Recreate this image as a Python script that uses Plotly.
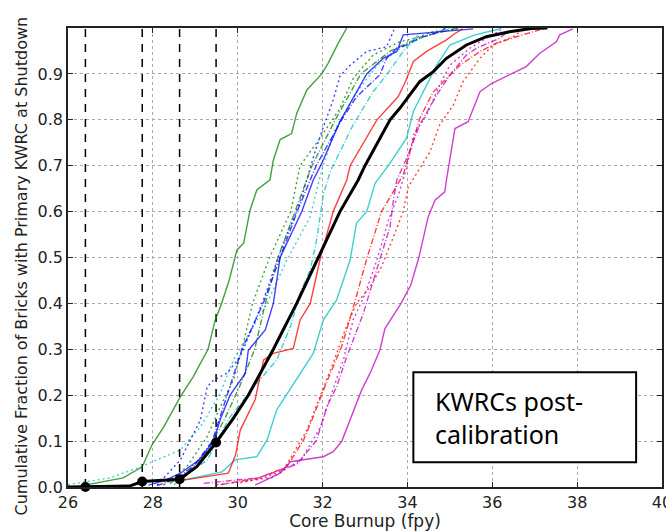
import plotly.graph_objects as go

# ---------------- data ----------------
cutoff_x = [26.41, 27.75, 28.63, 29.49]
cutoff_y = [0.0, 0.012, 0.017, 0.097]

black_x = [26.0, 27.45, 27.75, 28.2, 28.63, 29.04, 29.49, 29.9, 30.25, 30.84, 31.39, 31.9, 32.41, 32.84, 33.0, 33.59, 33.82, 34.06, 34.29, 34.61, 34.92, 35.39, 35.86, 36.41, 36.92, 37.3]
black_y = [0.0, 0.002, 0.012, 0.014, 0.017, 0.045, 0.097, 0.15, 0.2, 0.3, 0.4, 0.5, 0.6, 0.669, 0.7, 0.8, 0.825, 0.855, 0.883, 0.905, 0.934, 0.963, 0.981, 0.992, 0.999, 1.0]

green_solid_x = [26.4, 27.3, 27.75, 27.98, 28.25, 28.65, 28.95, 29.3, 29.47, 29.62, 29.8, 29.98, 30.14, 30.29, 30.45, 30.76, 30.84, 31.0, 31.27, 31.39, 31.63, 31.98, 32.13, 32.37, 32.57]
green_solid_y = [0.004, 0.02, 0.044, 0.092, 0.13, 0.197, 0.24, 0.3, 0.364, 0.4, 0.451, 0.516, 0.531, 0.603, 0.647, 0.669, 0.712, 0.757, 0.77, 0.814, 0.865, 0.9, 0.923, 0.967, 1.0]

blue_solid_x = [27.9, 28.3, 28.65, 29.1, 29.43, 29.6, 29.82, 30.18, 30.25, 30.65, 30.84, 31.0, 31.51, 31.78, 31.98, 32.41, 33.04, 33.43, 33.75, 33.9, 35.55]
blue_solid_y = [0.004, 0.015, 0.03, 0.06, 0.1, 0.15, 0.2, 0.248, 0.298, 0.342, 0.4, 0.5, 0.6, 0.669, 0.705, 0.796, 0.9, 0.934, 0.949, 0.985, 0.998]

red_solid_x = [28.65, 29.78, 29.95, 30.06, 30.41, 30.61, 30.84, 31.31, 31.47, 31.71, 31.95, 32.25, 32.57, 32.65, 33.28, 33.78, 33.94, 34.14, 34.45, 34.92, 35.12, 35.3]
red_solid_y = [0.014, 0.03, 0.07, 0.124, 0.19, 0.277, 0.291, 0.302, 0.364, 0.4, 0.5, 0.6, 0.669, 0.7, 0.8, 0.85, 0.88, 0.927, 0.949, 0.974, 0.988, 0.998]

cyan_solid_x = [28.65, 29.63, 29.94, 30.45, 30.69, 30.92, 31.27, 31.78, 32.02, 32.33, 32.65, 32.8, 33.04, 33.24, 33.55, 33.98, 34.14, 34.37, 34.69, 35.0, 35.59, 36.22]
cyan_solid_y = [0.014, 0.033, 0.059, 0.066, 0.102, 0.168, 0.218, 0.291, 0.364, 0.407, 0.495, 0.575, 0.6, 0.662, 0.7, 0.76, 0.818, 0.861, 0.919, 0.963, 0.985, 0.999]

magenta_solid_x = [30.41, 31.0, 31.24, 32.02, 32.25, 32.45, 32.92, 33.12, 33.35, 33.47, 33.85, 34.08, 34.27, 34.49, 34.65, 34.88, 34.92, 35.12, 35.43, 35.71, 35.98, 36.41, 36.8, 37.12, 37.51, 37.59, 37.9]
magenta_solid_y = [0.004, 0.03, 0.055, 0.066, 0.077, 0.099, 0.211, 0.248, 0.298, 0.345, 0.4, 0.44, 0.5, 0.589, 0.625, 0.643, 0.669, 0.781, 0.796, 0.861, 0.879, 0.898, 0.916, 0.945, 0.97, 0.985, 0.998]

blue_dot_x = [28.1, 28.65, 28.88, 29.12, 29.28, 29.43, 29.75, 30.06, 30.45, 30.69, 30.95, 31.3, 31.51, 31.82, 32.02, 32.25, 32.41, 32.65, 33.04, 33.51, 33.63, 33.7]
blue_dot_y = [0.004, 0.059, 0.102, 0.146, 0.218, 0.233, 0.248, 0.284, 0.371, 0.429, 0.5, 0.58, 0.632, 0.73, 0.785, 0.843, 0.895, 0.919, 0.949, 0.959, 0.985, 1.0]

blue_dashdot_x = [28.1, 28.6, 29.0, 29.4, 29.75, 30.1, 30.6, 31.0, 31.4, 31.85, 32.45, 32.8, 33.35, 33.51, 33.75, 33.98, 34.29, 34.76, 34.9]
blue_dashdot_y = [0.003, 0.02, 0.05, 0.1, 0.2, 0.3, 0.4, 0.5, 0.6, 0.7, 0.8, 0.85, 0.898, 0.934, 0.956, 0.963, 0.978, 0.992, 1.0]

green_dot_x = [28.25, 28.8, 29.28, 29.59, 29.9, 30.1, 30.35, 30.75, 31.25, 31.47, 31.94, 32.41, 32.72, 33.19, 33.82, 34.14, 34.61, 35.24]
green_dot_y = [0.004, 0.044, 0.11, 0.175, 0.233, 0.3, 0.4, 0.5, 0.6, 0.7, 0.76, 0.825, 0.89, 0.941, 0.97, 0.977, 0.992, 0.999]

green_dashdot_x = [28.4, 28.8, 29.3, 29.7, 30.05, 30.4, 30.65, 30.95, 31.35, 31.75, 32.3, 32.9, 33.6, 34.3, 35.2]
green_dashdot_y = [0.008, 0.03, 0.08, 0.15, 0.22, 0.3, 0.4, 0.5, 0.6, 0.7, 0.8, 0.9, 0.95, 0.98, 1.0]

cyan_dot_x = [26.0, 27.0, 27.71, 28.65, 29.12, 29.59, 29.9, 30.37, 30.69, 31.16, 31.71, 31.98, 32.3, 32.8, 33.3, 33.9, 34.5, 35.0]
cyan_dot_y = [0.005, 0.02, 0.044, 0.081, 0.131, 0.204, 0.277, 0.349, 0.4, 0.495, 0.589, 0.69, 0.78, 0.86, 0.92, 0.96, 0.985, 1.0]

cyan_dashdot_x = [28.5, 29.28, 29.8, 30.4, 30.92, 31.24, 31.47, 31.71, 31.86, 32.02, 32.18, 32.72, 33.19, 33.51, 33.9, 34.3]
cyan_dashdot_y = [0.005, 0.059, 0.15, 0.22, 0.277, 0.349, 0.422, 0.473, 0.538, 0.639, 0.687, 0.789, 0.861, 0.898, 0.949, 0.99]

red_dot_x = [30.06, 30.6, 31.08, 31.31, 31.63, 31.94, 32.25, 32.53, 32.8, 33.12, 33.39, 33.67, 33.9, 34.02, 34.14, 34.53, 34.76, 35.08, 35.31, 35.71, 36.02, 36.49, 36.65, 36.8]
red_dot_y = [0.009, 0.02, 0.037, 0.073, 0.124, 0.197, 0.27, 0.342, 0.4, 0.436, 0.48, 0.545, 0.6, 0.654, 0.672, 0.73, 0.789, 0.832, 0.883, 0.934, 0.963, 0.981, 0.992, 1.0]

red_dashdot_x = [29.6, 30.5, 31.16, 31.55, 31.78, 32.02, 32.45, 32.75, 33.05, 33.39, 33.9, 34.29, 34.61, 35.24, 35.71, 36.1, 36.57, 37.12]
red_dashdot_y = [0.005, 0.02, 0.044, 0.102, 0.153, 0.211, 0.306, 0.4, 0.5, 0.6, 0.68, 0.803, 0.861, 0.919, 0.949, 0.967, 0.981, 0.996]

magenta_dashdot_x = [29.2, 30.5, 31.4, 31.86, 32.1, 32.33, 32.57, 32.8, 32.96, 33.2, 33.35, 33.59, 33.67, 33.75, 34.0, 34.29, 34.69, 35.0, 35.39, 35.63, 36.18, 36.4]
magenta_dashdot_y = [0.008, 0.02, 0.05, 0.102, 0.175, 0.218, 0.284, 0.342, 0.378, 0.451, 0.495, 0.567, 0.625, 0.669, 0.72, 0.789, 0.854, 0.898, 0.941, 0.956, 0.978, 0.995]

magenta_dot_x = [29.5, 30.8, 31.5, 31.95, 32.2, 32.5, 32.72, 33.0, 33.3, 33.55, 33.8, 33.98, 34.14, 34.45, 34.76, 35.0, 35.47, 35.86, 36.2]
magenta_dot_y = [0.005, 0.02, 0.06, 0.13, 0.2, 0.28, 0.364, 0.42, 0.5, 0.58, 0.64, 0.694, 0.767, 0.81, 0.876, 0.919, 0.956, 0.978, 0.995]

x_ticks = [26, 28, 30, 32, 34, 36, 38, 40]
y_ticks = [0.0, 0.1, 0.2, 0.3, 0.4, 0.5, 0.6, 0.7, 0.8, 0.9]
box_text = "KWRCs post-<br>calibration"
y_title = "Cumulative Fraction of Bricks with Primary KWRC at Shutdown"
x_title = "Core Burnup (fpy)"

# ---------------- styles ----------------
BLUE = "rgba(0,0,255,0.75)"
GREEN = "rgba(0,128,0,0.75)"
RED = "rgba(255,0,0,0.75)"
CYAN = "rgba(0,191,191,0.75)"
MAGENTA = "rgba(191,0,191,0.75)"
DOT = "2px,3px"
DASHDOT = "6px,2px,1px,2px"
TEXT = "#222222"

fig = go.Figure()

def add(x, y, color, dash="solid", width=1.4):
    fig.add_trace(go.Scatter(x=x, y=y, mode="lines",
                             line=dict(color=color, width=width, dash=dash),
                             showlegend=False, hoverinfo="skip"))

# vertical dashed cutoff lines
for cx in cutoff_x:
    fig.add_trace(go.Scatter(x=[cx, cx], y=[0, 1], mode="lines",
                             line=dict(color="black", width=1.5, dash="8px,7px"),
                             showlegend=False, hoverinfo="skip"))

add(cyan_dot_x, cyan_dot_y, CYAN, DOT)
add(blue_dot_x, blue_dot_y, BLUE, DOT)
add(green_dot_x, green_dot_y, GREEN, DOT)
add(green_dashdot_x, green_dashdot_y, GREEN, DASHDOT)
add(blue_dashdot_x, blue_dashdot_y, BLUE, DASHDOT)
add(cyan_dashdot_x, cyan_dashdot_y, CYAN, DASHDOT)
add(red_dot_x, red_dot_y, RED, DOT)
add(red_dashdot_x, red_dashdot_y, RED, DASHDOT)
add(magenta_dot_x, magenta_dot_y, MAGENTA, DOT)
add(magenta_dashdot_x, magenta_dashdot_y, MAGENTA, DASHDOT)

add(green_solid_x, green_solid_y, GREEN)
add(cyan_solid_x, cyan_solid_y, CYAN)
add(red_solid_x, red_solid_y, RED)
add(magenta_solid_x, magenta_solid_y, MAGENTA)
add(blue_solid_x, blue_solid_y, BLUE)
add(black_x, black_y, "black", "solid", 3)

fig.add_trace(go.Scatter(x=cutoff_x, y=cutoff_y, mode="markers",
                         marker=dict(color="black", size=10),
                         showlegend=False, hoverinfo="skip", cliponaxis=False))

axis_common = dict(showline=True, linecolor="#222222", linewidth=1.5, mirror="allticks",
                   ticks="inside", ticklen=5, tickcolor="#222222",
                   showgrid=True, gridcolor="#aaaaaa", griddash="dot", gridwidth=1,
                   zeroline=False, ticklabeloverflow="allow", automargin=False,
                   tickfont=dict(family="DejaVu Sans", size=16, color=TEXT))

fig.update_xaxes(range=[26, 40], tickvals=x_ticks, ticktext=[str(v) for v in x_ticks],
                 title=dict(text=x_title, standoff=4,
                            font=dict(family="DejaVu Sans", size=17, color=TEXT)),
                 **axis_common)
fig.update_yaxes(range=[0, 1.0], tickvals=y_ticks, ticktext=[f"{v:.1f}" for v in y_ticks],
                 **axis_common)

# y-axis title as a rotated annotation (slightly below the plot centre, as in the reference)
fig.add_annotation(xref="paper", yref="paper", x=0, y=0.5, xanchor="center", yanchor="middle",
                   xshift=-47, yshift=-9, textangle=-90, text=y_title, showarrow=False,
                   font=dict(family="DejaVu Sans", size=16, color=TEXT))

fig.add_shape(type="rect", xref="x", yref="y", x0=34.14, x1=39.39, y0=0.054, y1=0.25,
              line=dict(color="black", width=2), fillcolor="white", layer="above")
fig.add_annotation(x=34.6, y=0.152, xref="x", yref="y", text=box_text, showarrow=False,
                   xanchor="left", yanchor="middle", align="left",
                   font=dict(family="Noto Sans", size=25, color="black"))

fig.update_layout(width=666, height=531, margin=dict(l=68, r=4, t=28, b=44),
                  paper_bgcolor="white", plot_bgcolor="white")

fig.write_html("out.html")
